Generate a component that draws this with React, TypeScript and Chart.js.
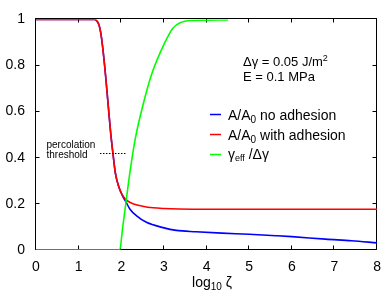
import React, { useEffect, useRef } from "react";
import { Chart, registerables } from "chart.js";

Chart.register(...registerables);

const FONT = "'Liberation Sans', Arial, Helvetica, sans-serif";

const xTicks = [0, 1, 2, 3, 4, 5, 6, 7, 8];
const yTicks = [0, 0.2, 0.4, 0.6, 0.8, 1];

const redX = [0, 1.0, 1.38, 1.44, 1.48, 1.52, 1.56, 1.63, 1.69, 1.75, 1.81, 1.86, 1.94, 2.02, 2.12, 2.29, 2.5, 2.75, 3.0, 3.36, 4, 5, 6, 7, 8];
const redY = [1, 1, 1, 0.99, 0.975, 0.94, 0.885, 0.76, 0.635, 0.51, 0.41, 0.335, 0.275, 0.24, 0.216, 0.2, 0.19, 0.183, 0.18, 0.178, 0.177, 0.177, 0.177, 0.177, 0.177];

const blueX = [0, 1.0, 1.38, 1.44, 1.48, 1.52, 1.56, 1.63, 1.69, 1.75, 1.81, 1.86, 1.94, 2.02, 2.12, 2.2, 2.36, 2.59, 2.98, 3.29, 3.75, 4.36, 5, 5.63, 6, 6.79, 7.4, 8];
const blueY = [1, 1, 1, 0.99, 0.975, 0.94, 0.885, 0.76, 0.635, 0.51, 0.41, 0.335, 0.275, 0.238, 0.205, 0.178, 0.148, 0.12, 0.097, 0.085, 0.079, 0.073, 0.068, 0.062, 0.058, 0.047, 0.04, 0.031];

const greenX = [0, 1.963, 2.03, 2.11, 2.21, 2.33, 2.5, 2.71, 3.02, 3.21, 3.4, 3.6, 4.0, 4.5];
const greenY = [0, 0, 0.094, 0.207, 0.346, 0.484, 0.622, 0.761, 0.899, 0.962, 0.987, 0.995, 0.997, 0.998];

const yTickLabels = ["0", "0.2", "0.4", "0.6", "0.8", "1"];
const legendLabels = ["no adhesion", "with adhesion"];
const thresholdY = 0.42;
const thresholdX = [1.5, 2.13];

type Part = { t: string; size: number; dy: number };

function drawRich(ctx: CanvasRenderingContext2D, x: number, y: number, parts: Part[], align: "left" | "center" = "left") {
  let total = 0;
  for (const p of parts) {
    ctx.font = `${p.size}px ${FONT}`;
    total += ctx.measureText(p.t).width;
  }
  let cx = align === "center" ? x - total / 2 : x;
  ctx.textBaseline = "alphabetic";
  ctx.textAlign = "left";
  for (const p of parts) {
    ctx.font = `${p.size}px ${FONT}`;
    ctx.fillText(p.t, cx, y + p.dy);
    cx += ctx.measureText(p.t).width;
  }
}

const framePlugin = {
  id: "frame",
  beforeDatasetsDraw(chart: any) {
    const { ctx, chartArea } = chart;
    const xs = chart.scales.x;
    const ys = chart.scales.y;
    const l = Math.round(chartArea.left) - 0.5;
    const r = Math.round(chartArea.right) - 0.5;
    const t = Math.round(chartArea.top) - 0.5;
    const b = Math.round(chartArea.bottom) - 0.5;
    ctx.save();
    ctx.strokeStyle = "#000";
    ctx.lineWidth = 1;
    ctx.beginPath();
    ctx.rect(l, t, r - l, b - t);
    const tl = 4;
    for (const v of xTicks) {
      const px = Math.round(xs.getPixelForValue(v)) - 0.5;
      ctx.moveTo(px, b);
      ctx.lineTo(px, b - tl);
      ctx.moveTo(px, t);
      ctx.lineTo(px, t + tl);
    }
    for (const v of yTicks) {
      const py = Math.round(ys.getPixelForValue(v)) - 0.5;
      ctx.moveTo(l, py);
      ctx.lineTo(l + tl, py);
      ctx.moveTo(r, py);
      ctx.lineTo(r - tl, py);
    }
    ctx.stroke();
    ctx.restore();
  },
  afterDraw(chart: any) {
    const { ctx } = chart;
    const xs = chart.scales.x;
    const ys = chart.scales.y;
    ctx.save();
    ctx.fillStyle = "#000";

    // x axis title
    drawRich(ctx, 212, 286.5, [
      { t: "log", size: 14, dy: 0 },
      { t: "10", size: 10, dy: 3 },
      { t: " ζ", size: 14, dy: 0 },
    ], "center");

    // parameters
    drawRich(ctx, 243, 66, [
      { t: "Δγ = 0.05 J/m", size: 13, dy: 0 },
      { t: "2", size: 9, dy: -5 },
    ]);
    drawRich(ctx, 243, 80.5, [{ t: "E = 0.1 MPa", size: 13, dy: 0 }]);

    // legend
    const rows = [114.5, 134.5, 154.5];
    const colors = ["#0000ff", "#ff0000", "#00ff00"];
    for (let i = 0; i < 3; i++) {
      ctx.strokeStyle = colors[i];
      ctx.lineWidth = 1.5;
      ctx.beginPath();
      ctx.moveTo(210, rows[i]);
      ctx.lineTo(221, rows[i]);
      ctx.stroke();
    }
    ctx.fillStyle = "#000";
    for (let i = 0; i < 2; i++) {
      drawRich(ctx, 228, rows[i] + 5, [
        { t: "A/A", size: 14, dy: 0 },
        { t: "0", size: 10, dy: 3 },
        { t: " " + legendLabels[i], size: 14, dy: 0 },
      ]);
    }
    drawRich(ctx, 228, rows[2] + 4, [
      { t: "γ", size: 14, dy: 0 },
      { t: "eff", size: 9, dy: 2 },
      { t: " /Δγ", size: 14, dy: 0 },
    ]);

    // percolation threshold
    drawRich(ctx, 46.5, 148, [{ t: "percolation", size: 10, dy: 0 }]);
    drawRich(ctx, 46.5, 158, [{ t: "threshold", size: 10, dy: 0 }]);
    const py = Math.round(ys.getPixelForValue(thresholdY)) + 0.5;
    ctx.strokeStyle = "#000";
    ctx.lineWidth = 1;
    ctx.setLineDash([1.5, 1.5]);
    ctx.beginPath();
    ctx.moveTo(xs.getPixelForValue(thresholdX[0]), py);
    ctx.lineTo(xs.getPixelForValue(thresholdX[1]), py);
    ctx.stroke();
    ctx.restore();
  },
};

function pts(xs: number[], ys: number[]) {
  return xs.map((x, i) => ({ x, y: ys[i] }));
}

export default function App() {
  const ref = useRef<HTMLCanvasElement | null>(null);
  useEffect(() => {
    if (!ref.current) return;
    const line = {
      pointRadius: 0,
      borderWidth: 1.6,
      cubicInterpolationMode: "monotone" as const,
      fill: false,
    };
    const chart = new Chart(ref.current, {
      type: "line",
      data: {
        datasets: [
          { label: "gamma", data: pts(greenX, greenY), borderColor: "#00ff00", ...line },
          { label: "with", data: pts(redX, redY), borderColor: "#ff0000", ...line },
          { label: "no", data: pts(blueX, blueY), borderColor: "#0000ff", ...line },
        ],
      },
      options: {
        animation: false,
        responsive: false,
        devicePixelRatio: 1,
        layout: { padding: { top: 9, right: 7, left: 0, bottom: 0 } },
        plugins: { legend: { display: false }, tooltip: { enabled: false } },
        scales: {
          x: {
            type: "linear",
            min: 0,
            max: 8,
            afterBuildTicks: (s: any) => { s.ticks = xTicks.map((v) => ({ value: v })); },
            afterFit: (s: any) => { s.height = 46; },
            grid: { display: false, drawTicks: false },
            border: { display: false },
            ticks: { color: "#000", padding: 9, font: { family: FONT, size: 14 }, maxRotation: 0, autoSkip: false, callback: (v: any) => String(v) },
          },
          y: {
            type: "linear",
            min: 0,
            max: 1,
            afterBuildTicks: (s: any) => { s.ticks = yTicks.map((v) => ({ value: v })); },
            afterFit: (s: any) => { s.width = 36; },
            grid: { display: false, drawTicks: false },
            border: { display: false },
            ticks: {
              color: "#000",
              padding: 11,
              font: { family: FONT, size: 14 },
              autoSkip: false,
              callback: (v: any) => {
                const i = yTicks.findIndex((t) => Math.abs(t - Number(v)) < 1e-9);
                return i >= 0 ? yTickLabels[i] : "";
              },
            },
          },
        },
      },
      plugins: [framePlugin],
    });
    return () => chart.destroy();
  }, []);
  return (
    <div style={{ position: "absolute", left: 0, top: 0, width: 390, height: 296, background: "#fff" }}>
      <canvas ref={ref} width={390} height={296} style={{ width: 390, height: 296 }} />
    </div>
  );
}
